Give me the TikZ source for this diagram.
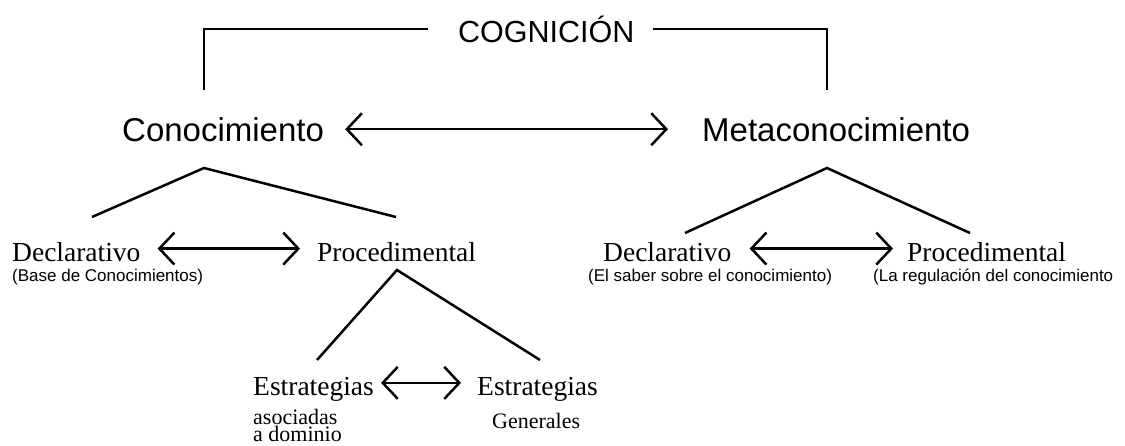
\documentclass[tikz,border=0pt]{standalone}
\usepackage{fontspec}
\setmainfont{Liberation Serif}
\setsansfont{Liberation Sans}
\usetikzlibrary{arrows.meta,positioning}

\begin{document}
\begin{tikzpicture}[x=1pt, y=-1pt,
    head/.style={font=\sffamily\fontsize{33}{36}\selectfont, inner sep=0pt, anchor=base west},
    kind/.style={font=\rmfamily\fontsize{27.5}{30}\selectfont, inner sep=0pt, anchor=base west},
    note/.style={font=\sffamily\fontsize{17}{19}\selectfont, inner sep=0pt, anchor=base west},
    sub/.style={font=\rmfamily\fontsize{22}{13}\selectfont, inner sep=0pt, anchor=base west, align=left},
    link/.style={line width=2.5pt},
    both/.style={line width=2.5pt, {Straight Barb[length=15pt,width=32pt]}-{Straight Barb[length=15pt,width=32pt]}}]
    \useasboundingbox (0,0) rectangle (1125,445);

    \node[head, font=\sffamily\fontsize{30.5}{34}\selectfont] (cog) at (458,42) {COGNICIÓN};
    \node[head] (cono) at (122,141) {Conocimiento};
    \node[head] (meta) at (702,141) {Metaconocimiento};

    \node[kind] (decl1) at (12,261) {Declarativo};
    \node[kind] (proc1) at (317,261) {Procedimental};
    \node[kind] (decl2) at (603,261) {Declarativo};
    \node[kind] (proc2) at (907,261) {Procedimental};

    \node[note] (base) at (12,281) {(Base de Conocimientos)};
    \node[note] (saber) at (588,281) {(El saber sobre el conocimiento)};
    \node[note] (regul) at (873,281) {(La regulación del conocimiento};

    \node[kind] (estr1) at (253,395) {Estrategias};
    \node[kind] (estr2) at (477,395) {Estrategias};
    \node[sub] (asoc) at (253,441) {asociadas\\a dominio};
    \node[sub] (gen) at (492,428) {Generales};

    % bracket of the top level
    \coordinate (cogL) at (204,90);
    \coordinate (cogR) at (827,90);
    \draw[link] ([xshift=-30pt]cog.west) -| (cogL);
    \draw[link] ([xshift=18pt]cog.east) -| (cogR);

    % tree branches
    \coordinate (top1) at (204,168);
    \coordinate (top1a) at (92,217);
    \coordinate (top1b) at (396,217);
    \coordinate (top2) at (827,168);
    \coordinate (top2a) at (685,233);
    \coordinate (top2b) at (970,233);
    \coordinate (top3) at (397,270);
    \coordinate (top3a) at (317,360);
    \coordinate (top3b) at (540,360);
    \draw[link] (top1a) -- (top1) -- (top1b);
    \draw[link] (top2a) -- (top2) -- (top2b);
    \draw[link] (top3a) -- (top3) -- (top3b);

    % two-way arrows
    \draw[both, shorten <=21pt, shorten >=34pt] (cono) -- (meta);
    \draw[both, shorten <=17pt, shorten >=17pt] ([yshift=3pt]decl1.east) -- ([yshift=3pt]proc1.west);
    \draw[both, shorten <=18pt, shorten >=14pt] ([yshift=3pt]decl2.east) -- ([yshift=3pt]proc2.west);
    \draw[both, shorten <=7pt, shorten >=16pt] ([yshift=6pt]estr1.east) -- ([yshift=6pt]estr2.west);
\end{tikzpicture}
\end{document}
